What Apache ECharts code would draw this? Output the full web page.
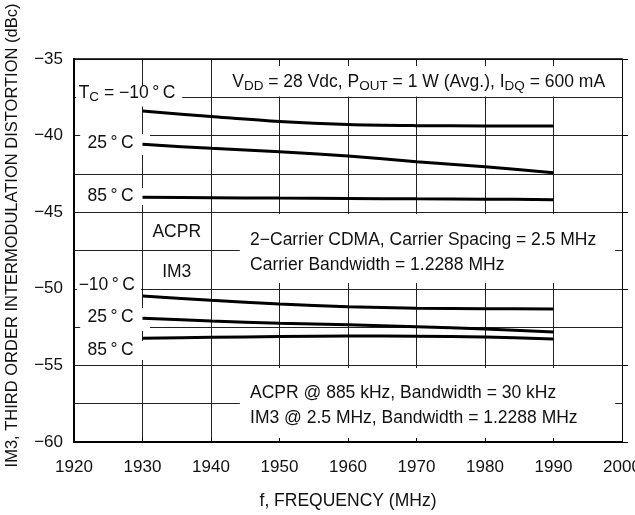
<!DOCTYPE html>
<html>
<head>
<meta charset="utf-8">
<script src="https://cdn.jsdelivr.net/npm/echarts@6/dist/echarts.min.js"></script>
<style>
html,body{margin:0;padding:0;background:#fff;}
#c{width:635px;height:515px;}
</style>
</head>
<body>
<div id="c"></div>
<script>
// ---- data ----
var freq = [1930, 1940, 1950, 1960, 1970, 1980, 1990];
var acprM10 = [-38.4, -38.75, -39.08, -39.28, -39.35, -39.37, -39.38];
var acpr25  = [-40.57, -40.83, -41.05, -41.33, -41.7, -42.03, -42.42];
var acpr85  = [-44.02, -44.05, -44.08, -44.1, -44.13, -44.15, -44.18];
var im3M10  = [-50.47, -50.75, -51.0, -51.17, -51.27, -51.3, -51.32];
var im325   = [-51.93, -52.1, -52.25, -52.35, -52.47, -52.62, -52.82];
var im385   = [-53.23, -53.17, -53.12, -53.08, -53.1, -53.15, -53.28];
var xMin = 1920, xMax = 2000, xStep = 10;
var yMin = -60, yMax = -35, yStep = 2.5, yLabelStep = 5;

var FONT = 'Liberation Sans, Arial, sans-serif';
var INK = '#111';
var ANN = 17.5;

function pairs(ys){ return freq.map(function(f,i){ return [f, ys[i]]; }); }
function lineSeries(name, ys){
  return {
    name: name, type: 'line', data: pairs(ys), symbol: 'none', smooth: 0.3,
    lineStyle: {color: '#000', width: 3}, z: 5, silent: true
  };
}

var chart = echarts.init(document.getElementById('c'), null, {renderer: 'canvas'});
chart.setOption({
  animation: false,
  backgroundColor: '#fff',
  textStyle: {fontFamily: FONT},
  grid: {left: 74, right: 13, top: 59, bottom: 73, containLabel: false, outerBoundsMode: 'none'},
  xAxis: [{
    type: 'value', min: xMin, max: xMax, interval: xStep,
    axisLine: {lineStyle: {color: '#000', width: 2}},
    axisTick: {show: true, inside: true, length: 4, lineStyle: {color: '#000', width: 1}},
    axisLabel: {color: INK, fontSize: 17, fontFamily: FONT, margin: 17,
      formatter: function(v){ return String(v); }},
    splitLine: {show: true, lineStyle: {color: '#222', width: 1}},
    name: 'f, FREQUENCY (MHz)', nameLocation: 'middle', nameGap: 50,
    nameTextStyle: {color: INK, fontSize: 17.5, fontFamily: FONT}
  }, {
    type: 'value', position: 'top', min: xMin, max: xMax, interval: xStep,
    axisLine: {show: true, lineStyle: {color: '#000', width: 1.5}},
    axisTick: {show: true, inside: true, length: 3, lineStyle: {color: '#000'}},
    axisLabel: {show: false}, splitLine: {show: false}
  }],
  yAxis: [{
    type: 'value', min: yMin, max: yMax, interval: yStep,
    axisLine: {show: true, lineStyle: {color: '#000', width: 2}},
    axisTick: {show: false},
    axisLabel: {
      color: INK, fontSize: 17, fontFamily: FONT, margin: 11,
      formatter: function(v){ return (Math.abs(v % yLabelStep) < 1e-6) ? '\u2212' + Math.abs(v) : ''; }
    },
    splitLine: {show: true, lineStyle: {color: '#222', width: 1}},
    name: 'IM3, THIRD ORDER INTERMODULATION DISTORTION (dBc)',
    nameLocation: 'middle', nameGap: 53, nameRotate: 90,
    nameTextStyle: {color: INK, fontSize: 16.5, fontFamily: FONT, padding: [0, 0, 0, 30]}
  }, {
    type: 'value', position: 'right', min: yMin, max: yMax, interval: yLabelStep,
    axisLine: {show: true, lineStyle: {color: '#000', width: 1}},
    axisTick: {show: true, inside: false, length: 6, lineStyle: {color: '#000'}},
    axisLabel: {show: false}, splitLine: {show: false}
  }],
  series: [
    lineSeries('ACPR -10', acprM10), lineSeries('ACPR 25', acpr25), lineSeries('ACPR 85', acpr85),
    lineSeries('IM3 -10', im3M10), lineSeries('IM3 25', im325), lineSeries('IM3 85', im385)
  ]
});

// ---- annotations (positioned through the chart's own scales) ----
function P(x, y){ return chart.convertToPixel({gridIndex: 0}, [x, y]); }
function mask(x1, x2, y1, y2){
  var a = P(x1, y1), b = P(x2, y2);
  return {type: 'rect', z: 1, silent: true,
    shape: {x: Math.min(a[0], b[0]), y: Math.min(a[1], b[1]), width: Math.abs(b[0]-a[0]), height: Math.abs(b[1]-a[1])},
    style: {fill: '#fff'}};
}
function label(x, y, txt, align, extra){
  var p = P(x, y);
  var st = {text: txt, fill: INK, font: ANN + 'px ' + FONT, textAlign: align || 'left', textVerticalAlign: 'middle'};
  if (extra) for (var k in extra) st[k] = extra[k];
  return {type: 'text', z: 10, silent: true, x: p[0], y: p[1], style: st};
}
var deg = '\u2009\u00b0\u2009';
var subStyle = {rich: {s: {fontSize: 13.5, fontFamily: FONT, fill: INK, padding: [9, 0, 0, 0]}}};
var graphics = [
  mask(1940.3, 1999.8, -35.45, -37.45),
  mask(1920.3, 1935.8, -36.75, -38.1),
  mask(1920.9, 1931.1, -39.9, -41.27),
  mask(1920.9, 1931.1, -43.42, -44.53),
  mask(1920.45, 1929.8, -49.16, -50.47),
  mask(1920.9, 1931.1, -51.25, -52.75),
  mask(1920.9, 1931.1, -53.4, -54.65),
  mask(1944.2, 1999.0, -45.12, -49.62),
  mask(1944.2, 1999.0, -55.17, -59.74),
  label(1943.1, -36.5, 'V{s|DD} = 28 Vdc, P{s|OUT} = 1 W (Avg.), I{s|DQ} = 600 mA', 'left', subStyle),
  label(1934.8, -37.22, 'T{s|C} = \u221210' + deg + 'C', 'right', subStyle),
  label(1928.7, -40.48, '25' + deg + 'C', 'right'),
  label(1928.7, -43.94, '85' + deg + 'C', 'right'),
  label(1935.0, -46.29, 'ACPR', 'center'),
  label(1935.0, -48.9, 'IM3', 'center'),
  label(1928.9, -49.75, '\u221210' + deg + 'C', 'right'),
  label(1928.7, -51.84, '25' + deg + 'C', 'right'),
  label(1928.7, -54.0, '85' + deg + 'C', 'right'),
  label(1945.7, -47.62, '2\u2212Carrier CDMA, Carrier Spacing = 2.5 MHz\nCarrier Bandwidth = 1.2288 MHz', 'left', {lineHeight: 25}),
  label(1945.7, -57.6, 'ACPR @ 885 kHz, Bandwidth = 30 kHz\nIM3 @ 2.5 MHz, Bandwidth = 1.2288 MHz', 'left', {lineHeight: 25})
];
chart.setOption({graphic: {elements: graphics}});
</script>
</body>
</html>
